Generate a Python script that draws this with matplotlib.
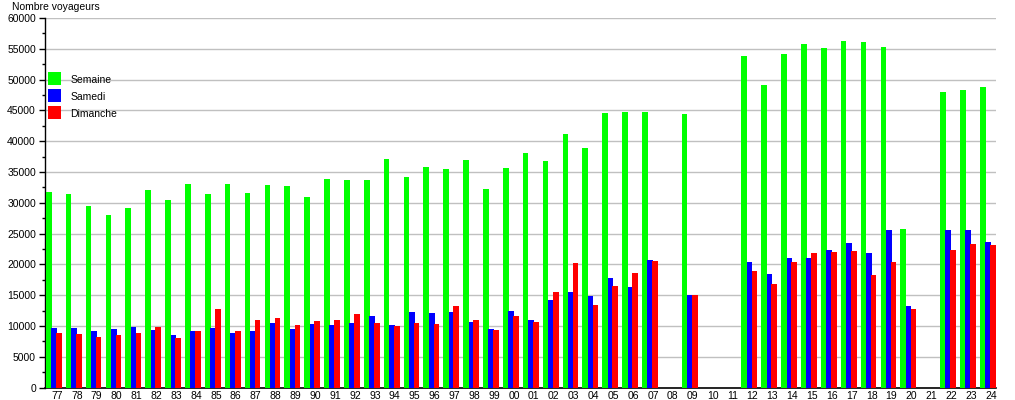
import numpy as np
import matplotlib
matplotlib.use("Agg")
import matplotlib.pyplot as plt
from matplotlib.patches import Rectangle

plt.rcParams['font.family'] = ['Liberation Sans', 'DejaVu Sans']

years = ["77", "78", "79", "80", "81", "82", "83", "84", "85", "86", "87", "88",
         "89", "90", "91", "92", "93", "94", "95", "96", "97", "98", "99", "00",
         "01", "02", "03", "04", "05", "06", "07", "08", "09", "10", "11", "12",
         "13", "14", "15", "16", "17", "18", "19", "20", "21", "22", "23", "24"]
nan = np.nan
semaine = [31800, 31450, 29550, 28050, 29200, 32000, 30450, 33100, 31450, 33100, 31650, 32900,
           32750, 30950, 33900, 33700, 33700, 37100, 34200, 35800, 35500, 36950, 32250, 35650,
           38100, 36800, 41150, 38900, 44600, 44750, 44750, nan, 44400, nan, nan, 53900,
           49100, 54200, 55800, 55100, 56300, 56100, 55300, 25700, nan, 48000, 48350, 48850]
samedi = [9650, 9650, 9150, 9500, 9800, 9350, 8500, 9150, 9650, 8850, 9150, 10500,
          9500, 10300, 10150, 10450, 11600, 10150, 12250, 12100, 12250, 10600, 9500, 12400,
          10950, 14200, 15500, 14900, 17800, 16300, 20700, nan, 15100, nan, nan, 20450,
          18350, 20950, 21100, 22250, 23400, 21900, 25500, 13200, nan, 25500, 25500, 23550]
dimanche = [8850, 8700, 8200, 8500, 8850, 9800, 8050, 9150, 12750, 9150, 10950, 11250,
            10150, 10800, 10950, 11900, 10450, 10000, 10450, 10300, 13200, 10950, 9300, 11600,
            10600, 15500, 20200, 13400, 16500, 18600, 20550, nan, 15100, nan, nan, 18850,
            16750, 20450, 21900, 22050, 22100, 18200, 20300, 12700, nan, 22400, 23350, 23200]

W, H = 1015, 400
fig = plt.figure(figsize=(W / 100, H / 100), dpi=100)
ax = fig.add_axes([45 / W, 1 - 387.5 / H, (996 - 45) / W, (387.5 - 18) / H])

x = np.arange(len(years))
bw = 0.285
colors = ['#00ff00', '#0000ff', '#ff0000']
offsets = [-0.41, -0.14, 0.10]
for vals, off, c in zip([semaine, samedi, dimanche], offsets, colors):
    v = np.array(vals, dtype=float)
    m = ~np.isnan(v)
    ax.bar(x[m] + off, v[m], width=bw, color=c, linewidth=0, zorder=3)

ax.set_xlim(-0.6, 47.26)
ax.set_ylim(0, 60000)
ax.set_yticks(np.arange(0, 60001, 5000))
ax.set_yticks(np.arange(0, 60001, 2500), minor=True)
ax.set_xticks(x)
ax.set_xticklabels(years)
ax.grid(axis='y', which='major', color='#c0c0c0', linewidth=1.0, zorder=0)
ax.set_axisbelow(True)
for s in ['top', 'right']:
    ax.spines[s].set_visible(False)
ax.spines['left'].set_linewidth(1.0)
ax.spines['bottom'].set_linewidth(1.2)
ax.tick_params(axis='y', which='major', length=4, width=1, direction='out', pad=2.5,
               labelsize=7.5)
ax.tick_params(axis='y', which='minor', length=2, width=1, direction='out')
ax.tick_params(axis='x', which='both', length=0, pad=2.5, labelsize=7.5)

fig.text(12 / W, 1 - 7 / H, "Nombre voyageurs", fontsize=7.5, ha='left', va='center')

# legend
labels = ["Semaine", "Samedi", "Dimanche"]
tops = [72, 89, 106]
for lab, c, t in zip(labels, colors, tops):
    fig.add_artist(Rectangle((48 / W, 1 - (t + 12.7) / H), 12.7 / W, 12.7 / H,
                             transform=fig.transFigure, facecolor=c, edgecolor='none'))
    fig.text(70.5 / W, 1 - (t + 8) / H, lab, fontsize=7.5, ha='left', va='center')

fig.savefig("out.png", dpi=100)
